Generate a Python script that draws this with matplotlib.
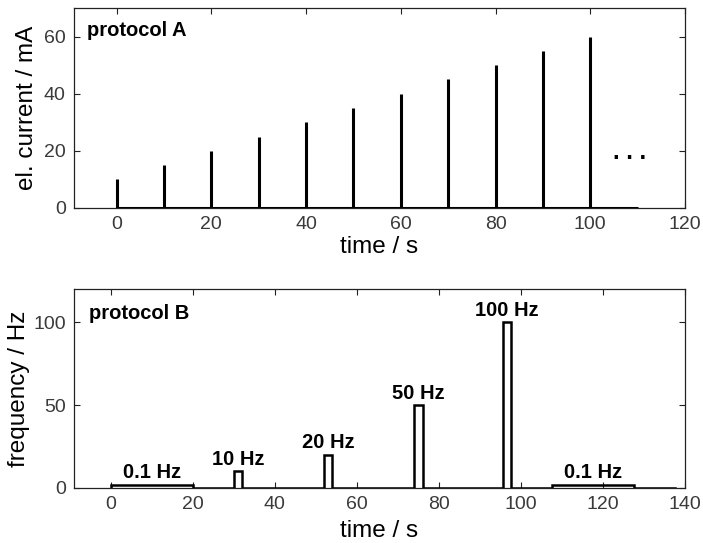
import matplotlib
matplotlib.use("Agg")
import matplotlib.pyplot as plt
import numpy as np

# ---- data ----
# protocol A
pulse_times = [0, 10, 20, 30, 40, 50, 60, 70, 80, 90, 100]
pulse_currents = [10, 15, 20, 25, 30, 35, 40, 45, 50, 55, 60]
baseline_end_a = 110

# protocol B (segments: start, end, displayed level)
seg_start = [0, 30, 52, 74, 95.7, 107.5]
seg_end = [20, 32, 54, 76, 97.6, 127.5]
seg_level = [2, 10, 20, 50, 100, 2]
seg_labels = ["0.1 Hz", "10 Hz", "20 Hz", "50 Hz", "100 Hz", "0.1 Hz"]
end_b = 137.5

xticks_a = [0, 20, 40, 60, 80, 100, 120]
yticks_a = [0, 20, 40, 60]
xticks_b = [0, 20, 40, 60, 80, 100, 120, 140]
yticks_b = [0, 50, 100]

plt.rcParams['font.family'] = ['Liberation Sans', 'DejaVu Sans']

fig = plt.figure(figsize=(7.03, 5.43), dpi=100)
W, H = 703, 543
axA = fig.add_axes([74 / W, 1 - 208 / H, (685 - 74) / W, (208 - 8) / H])
axB = fig.add_axes([74 / W, 1 - 488 / H, (685 - 74) / W, (488 - 289) / H])

tick_color = '#3a3a3a'
for ax in (axA, axB):
    for s in ax.spines.values():
        s.set_linewidth(0.9)
        s.set_color('#222222')
    ax.tick_params(direction='in', length=4, width=0.8, top=True, right=True,
                   labelsize=14, labelcolor=tick_color, color='#222222', pad=6)

# protocol A
axA.hlines(0, pulse_times[0], baseline_end_a, color='black', lw=2.2, zorder=3)
axA.vlines(pulse_times, 0, pulse_currents, color='black', lw=2.2, zorder=3)
axA.set_xlim(-9, 120)
axA.set_ylim(0, 70)
axA.set_xticks(xticks_a)
axA.set_yticks(yticks_a)
axA.set_xlabel('time / s', fontsize=17.5, labelpad=2)
axA.set_ylabel('el. current / mA', fontsize=17.5, labelpad=4)
axA.text(-6.2, 62, 'protocol A', fontsize=14.5, fontweight='bold', va='center', ha='left')
axA.text(108.3, 17, '. . .', fontsize=17, fontweight='bold', ha='center', va='baseline')

# protocol B - build step path
xs, ys = [seg_start[0]], [0]
for s, e, l in zip(seg_start, seg_end, seg_level):
    xs += [s, s, e, e]
    ys += [0, l, l, 0]
xs.append(end_b)
ys.append(0)
axB.plot(xs, ys, color='black', lw=1.8, solid_joinstyle='miter', zorder=3)
for s, e, l, lab in zip(seg_start, seg_end, seg_level, seg_labels):
    axB.text((s + e) / 2, l + 1.5, lab, fontsize=14.5, fontweight='bold',
             ha='center', va='bottom')
axB.set_xlim(-9, 140)
axB.set_ylim(0, 120)
axB.set_xticks(xticks_b)
axB.set_yticks(yticks_b)
axB.set_xlabel('time / s', fontsize=17.5, labelpad=5)
axB.set_ylabel('frequency / Hz', fontsize=17.5, labelpad=2)
axB.text(-5.4, 105, 'protocol B', fontsize=14.5, fontweight='bold', va='center', ha='left')

fig.savefig('out.png', dpi=100)
